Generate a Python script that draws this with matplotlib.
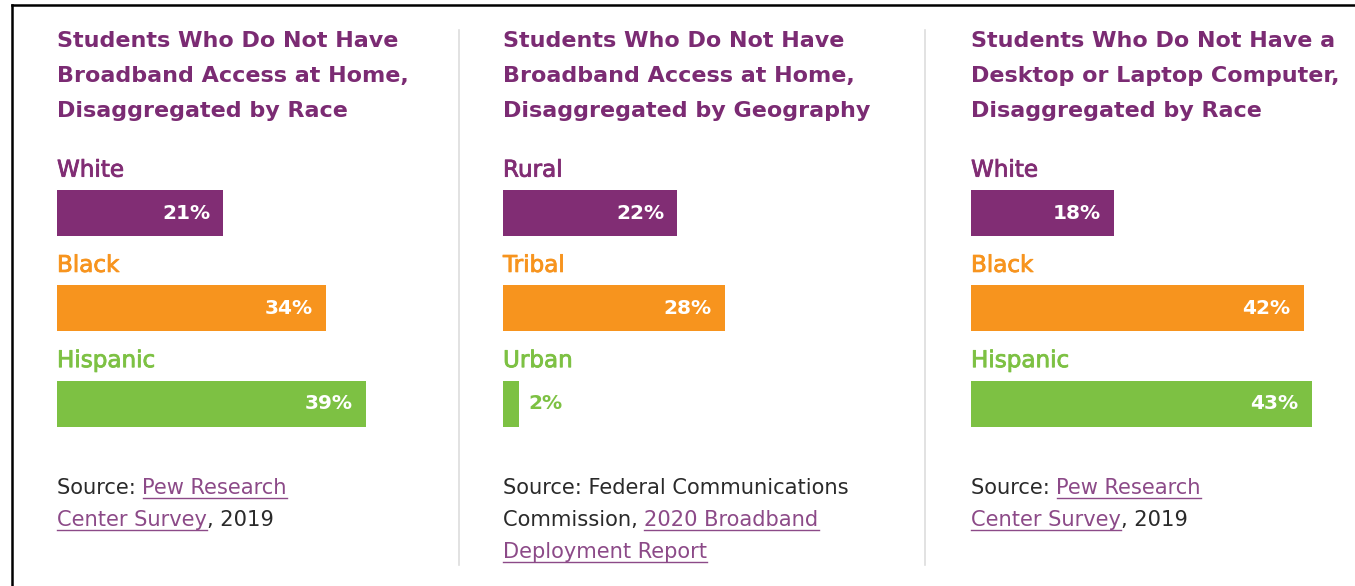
import matplotlib
matplotlib.use("Agg")
import matplotlib.pyplot as plt
from matplotlib.lines import Line2D
import matplotlib.patheffects as pe

W, H = 1355, 586

# ---- data ----
titles = [
    "Students Who Do Not Have\nBroadband Access at Home,\nDisaggregated by Race",
    "Students Who Do Not Have\nBroadband Access at Home,\nDisaggregated by Geography",
    "Students Who Do Not Have a\nDesktop or Laptop Computer,\nDisaggregated by Race",
]
categories = [
    ["White", "Black", "Hispanic"],
    ["Rural", "Tribal", "Urban"],
    ["White", "Black", "Hispanic"],
]
values = [
    [21, 34, 39],
    [22, 28, 2],
    [18, 42, 43],
]
sources = [
    [[("Source: ", False), ("Pew Research", True)],
     [("Center Survey", True), (", 2019", False)]],
    [[("Source: Federal Communications", False)],
     [("Commission, ", False), ("2020 Broadband", True)],
     [("Deployment Report", True)]],
    [[("Source: ", False), ("Pew Research", True)],
     [("Center Survey", True), (", 2019", False)]],
]

# ---- style ----
bar_colors = ["#812D74", "#F7941E", "#7DC143"]
title_color = "#7B2B73"
link_color = "#8C4A88"
text_color = "#2A2A2A"
FONT = "DejaVu Sans"
SRC_SIZE = 15.1

fig = plt.figure(figsize=(W / 100, H / 100), dpi=100)
fig.patch.set_facecolor("white")


def fx(x):
    return x / W


def fy(y):
    return 1 - y / H


panel_x0 = [57, 503, 971]
px_per_pct = 7.92
xmax = 45
bar_centers_top = 213
bar_step = 95.25

# border lines (top and left)
fig.add_artist(Line2D([fx(12), fx(W)], [fy(5), fy(5)], color="black", lw=1.8))
fig.add_artist(Line2D([fx(12), fx(12)], [fy(5), fy(H)], color="black", lw=1.8))

# dividers
for xd in [459, 925]:
    fig.add_artist(Line2D([fx(xd), fx(xd)], [fy(30), fy(565)], color="#DDDDDD", lw=1.2))

for p in range(3):
    x0 = panel_x0[p]
    top_px = bar_centers_top - bar_step / 2
    bot_px = bar_centers_top + 2.5 * bar_step
    ax = fig.add_axes([fx(x0), fy(bot_px), xmax * px_per_pct / W, (bot_px - top_px) / H])
    ax.set_xlim(0, xmax)
    ax.set_ylim(2.5, -0.5)
    ax.axis("off")
    cats = categories[p]
    vals = values[p]
    ax.barh(range(len(cats)), vals, height=46 / bar_step, color=bar_colors, clip_on=False)
    for i, (c, v) in enumerate(zip(cats, vals)):
        ax.text(0, i - 0.45, c, color=bar_colors[i], fontsize=16.6, family=FONT,
                va="center", ha="left", clip_on=False,
                path_effects=[pe.withStroke(linewidth=0.6, foreground=bar_colors[i])])
        if v >= 5:
            ax.text(v - 13 / px_per_pct, i, f"{v}%", color="white", fontsize=14.5,
                    family=FONT, fontweight="bold", va="center", ha="right")
        else:
            ax.text(v + 10 / px_per_pct, i, f"{v}%", color=bar_colors[i], fontsize=14.5,
                    family=FONT, fontweight="bold", va="center", ha="left")

    for k, line in enumerate(titles[p].split("\n")):
        fig.text(fx(x0), fy(41 + 35 * k), line, color=title_color, fontsize=16,
                 family=FONT, fontweight="bold", va="center", ha="left")

fig.canvas.draw()
renderer = fig.canvas.get_renderer()

for p in range(3):
    x0 = panel_x0[p]
    for k, segs in enumerate(sources[p]):
        y = 494 + 32 * k
        xcur = x0
        for txt, is_link in segs:
            t = fig.text(fx(xcur), fy(y), txt, color=link_color if is_link else text_color,
                         fontsize=SRC_SIZE, family=FONT, va="baseline", ha="left")
            probe = fig.text(0, 0, txt.replace(" ", "\u00a0") + "|", fontsize=SRC_SIZE, family=FONT)
            bar = fig.text(0, 0, "|", fontsize=SRC_SIZE, family=FONT)
            wfull = probe.get_window_extent(renderer).width - bar.get_window_extent(renderer).width
            wtxt = t.get_window_extent(renderer).width
            probe.remove()
            bar.remove()
            if is_link:
                fig.add_artist(Line2D([fx(xcur), fx(xcur + wtxt)], [fy(y + 3.5), fy(y + 3.5)],
                                      color=link_color, lw=1.0))
            xcur += wfull

fig.savefig("out.png", dpi=100, facecolor="white")
